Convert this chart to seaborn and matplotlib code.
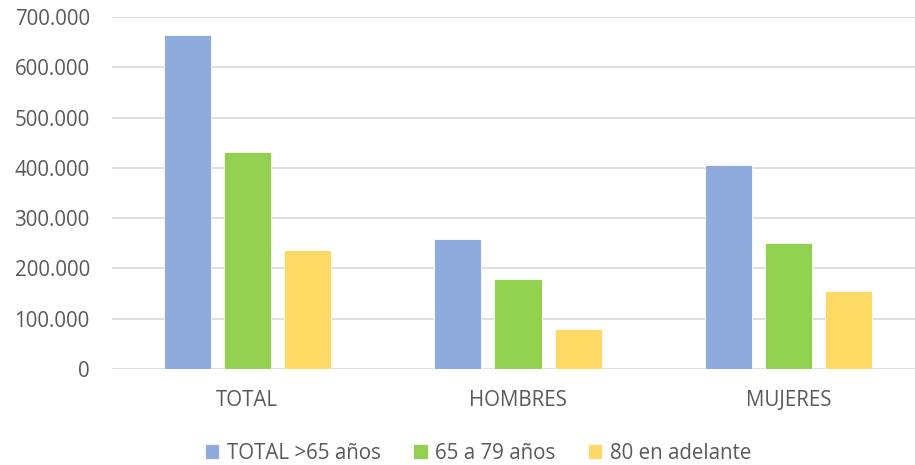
import matplotlib
matplotlib.use("Agg")
import matplotlib.pyplot as plt
import pandas as pd
import seaborn as sns
from matplotlib.ticker import FuncFormatter

categories = ["TOTAL", "HOMBRES", "MUJERES"]
series = ["TOTAL >65 años", "65 a 79 años", "80 en adelante"]
total_65 = [665000, 259000, 406000]
age_65_79 = [431000, 179000, 250000]
age_80 = [236000, 80000, 155000]
colors = ["#8FAADC", "#92D050", "#FFD966"]

rows = []
for name, vals in zip(series, [total_65, age_65_79, age_80]):
    for cat, v in zip(categories, vals):
        rows.append({"grupo": cat, "serie": name, "valor": v})
df = pd.DataFrame(rows)

sns.set_style("white")
plt.rcParams["font.family"] = ["Open Sans", "DejaVu Sans"]
text_color = "#595959"

fig = plt.figure(figsize=(9.15, 4.65), dpi=100)
ax = fig.add_axes([112 / 915, 96 / 465, 812 / 915, 352 / 465])

sns.barplot(data=df, x="grupo", y="valor", hue="serie", order=categories,
            hue_order=series, palette=colors, width=0.666, gap=0.217,
            edgecolor="white", linewidth=0.6, saturation=1, ax=ax, legend=True)

ax.set_ylim(0, 700000)
ax.set_yticks(range(0, 700001, 100000))
ax.yaxis.set_major_formatter(FuncFormatter(lambda v, p: f"{int(v):,}".replace(",", ".")))
ax.grid(axis="y", color="#D9D9D9", linewidth=1.2)
ax.set_axisbelow(True)
for s in ax.spines.values():
    s.set_visible(False)
ax.set_xlabel("")
ax.set_ylabel("")
ax.tick_params(axis="y", length=0, pad=16, labelsize=14.8, labelcolor=text_color)
ax.tick_params(axis="x", length=0, pad=15, labelsize=14.8, labelcolor=text_color)

handles, labels = ax.get_legend_handles_labels()
ax.get_legend().remove()
fig.legend(handles, labels, loc="center", bbox_to_anchor=(478 / 915, 12 / 465),
           ncol=3, frameon=False, fontsize=14.8, labelcolor=text_color,
           handlelength=0.7, handleheight=0.7, handletextpad=0.35,
           columnspacing=1.6)

fig.savefig("out.png", dpi=100)
